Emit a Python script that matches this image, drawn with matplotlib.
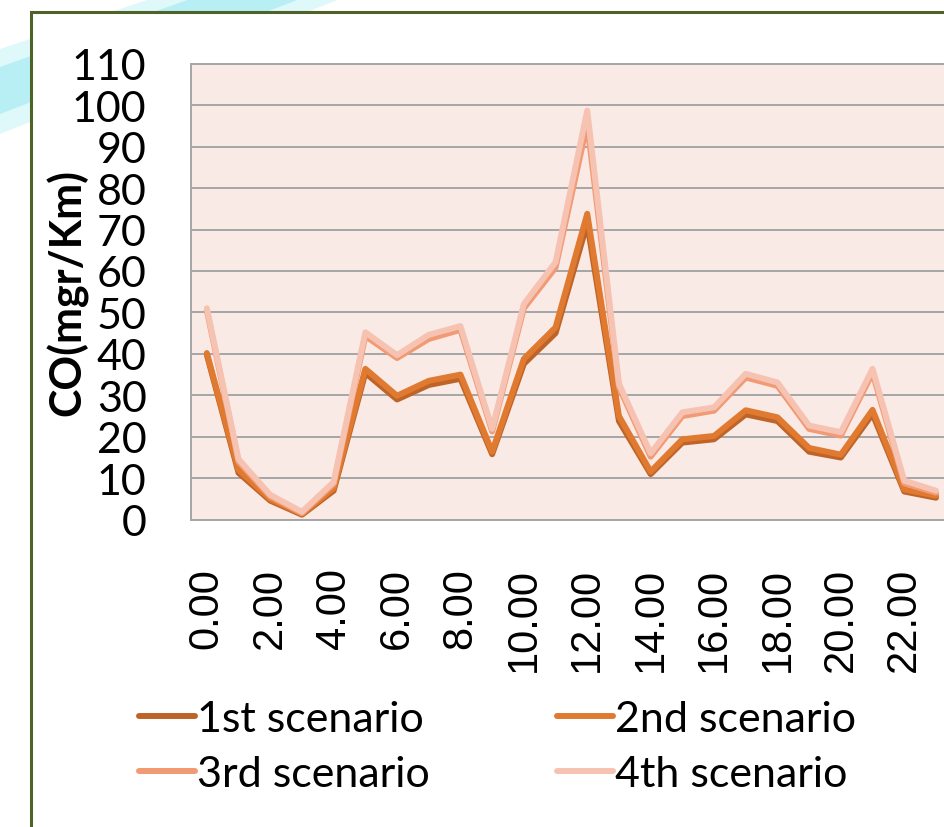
import matplotlib
matplotlib.use("Agg")
import matplotlib.pyplot as plt
from matplotlib.patches import Rectangle, Polygon
from matplotlib.lines import Line2D
import numpy as np

# --- data ------------------------------------------------------------------ #
hours = [f"{h}.00" for h in range(24)]
scenario_1 = [39.8, 11.3, 4.6, 1.2, 7.0, 35.4, 29.0, 32.5, 34.0, 15.8, 37.6, 45.0,
              71.5, 23.8, 11.0, 18.6, 19.4, 25.4, 23.8, 16.4, 15.0, 25.5, 6.8, 5.3]
scenario_2 = [40.2, 12.0, 5.0, 1.4, 7.6, 36.4, 29.9, 33.5, 35.0, 16.4, 38.8, 46.4,
              73.8, 25.0, 11.6, 19.4, 20.2, 26.4, 24.7, 17.3, 15.7, 26.5, 7.3, 5.8]
scenario_3 = [50.5, 14.0, 5.6, 1.6, 8.6, 44.3, 39.0, 43.6, 45.8, 21.3, 51.0, 60.8,
              95.5, 32.0, 15.2, 25.0, 26.3, 34.3, 32.3, 21.9, 20.3, 35.4, 8.8, 6.5]
scenario_4 = [51.0, 14.6, 6.0, 1.9, 9.1, 45.2, 39.7, 44.6, 46.7, 21.9, 52.0, 62.1,
              98.7, 32.8, 16.0, 25.9, 27.1, 35.2, 33.1, 22.7, 21.1, 36.4, 9.4, 7.0]
series_names = ["1st scenario", "2nd scenario", "3rd scenario", "4th scenario"]
series_colors = ["#BE6428", "#E07A30", "#F19A74", "#F6C3B2"]

W, H = 944, 828
fig = plt.figure(figsize=(W / 100, H / 100), dpi=100, facecolor="white")


def px(pts):
    # pixel coords (from top-left) -> figure fraction
    return [(x / W, 1 - y / H) for x, y in pts]


# decorative cyan swoosh behind the chart frame (top-left)
for pts, a in [([(0, 50), (150, 0), (340, 0), (0, 135)], 0.22),
               ([(0, 68), (190, 0), (300, 0), (0, 115)], 0.35)]:
    fig.patches.append(Polygon(px(pts), closed=True, transform=fig.transFigure,
                               facecolor="#6FE0EC", edgecolor="none", alpha=a, zorder=-3))

# chart frame (dark green), running off the right and bottom edges
fig.patches.append(Rectangle((31 / W, -0.1), 1.2, 1 - 13 / H + 0.1,
                             transform=fig.transFigure, facecolor="white",
                             edgecolor="#4F6228", linewidth=2.2, zorder=-2))

x = np.arange(len(hours))
ax = fig.add_axes([191 / W, (H - 520.7) / H, 760.8 / W, 456 / H])
ax.set_facecolor("#FAEAE5")

for vals, name, col in zip([scenario_1, scenario_2, scenario_3, scenario_4],
                           series_names, series_colors):
    ax.plot(x, vals, color=col, linewidth=4.3, label=name,
            solid_capstyle="round", solid_joinstyle="round", zorder=3)

ax.set_xlim(-0.5, len(hours) - 0.5)
ax.set_ylim(0, 110)
ax.set_yticks(np.arange(0, 111, 10))
ax.yaxis.grid(True, color="#A6A6A6", linewidth=1.4, zorder=0)
ax.set_axisbelow(True)
for s in ["left", "bottom", "top"]:
    ax.spines[s].set_color("#A6A6A6")
    ax.spines[s].set_linewidth(1.4)
ax.spines["right"].set_visible(False)

ax.set_xticks(x[::2])
ax.set_xticklabels(hours[::2], rotation=90, va="top", ha="center",
                   fontsize=30, family="Liberation Sans")
ax.tick_params(axis="x", length=0, pad=34)
ax.tick_params(axis="y", length=0, pad=32, labelsize=31)
for lab in ax.get_yticklabels():
    lab.set_family("Lato")

ax.set_ylabel("CO(mgr/Km)", fontsize=31, fontweight="bold", family="Lato")
ax.yaxis.set_label_coords((88 - 191) / 760.8, 0.5)

# legend, row-wise order: 1st 2nd / 3rd 4th
handles = [Line2D([], [], color=c, linewidth=4.3, solid_capstyle="round")
           for c in series_colors]
order = [0, 2, 1, 3]
fig.legend([handles[i] for i in order], [series_names[i] for i in order],
           ncol=2, loc="upper left", bbox_to_anchor=(122 / W, 1 - 684 / H),
           frameon=False, prop={"family": "Lato", "size": 31},
           handlelength=1.3, handletextpad=0.05, columnspacing=2.95,
           labelspacing=0.4, borderaxespad=0)

fig.savefig("out.png", dpi=100, facecolor="white")
